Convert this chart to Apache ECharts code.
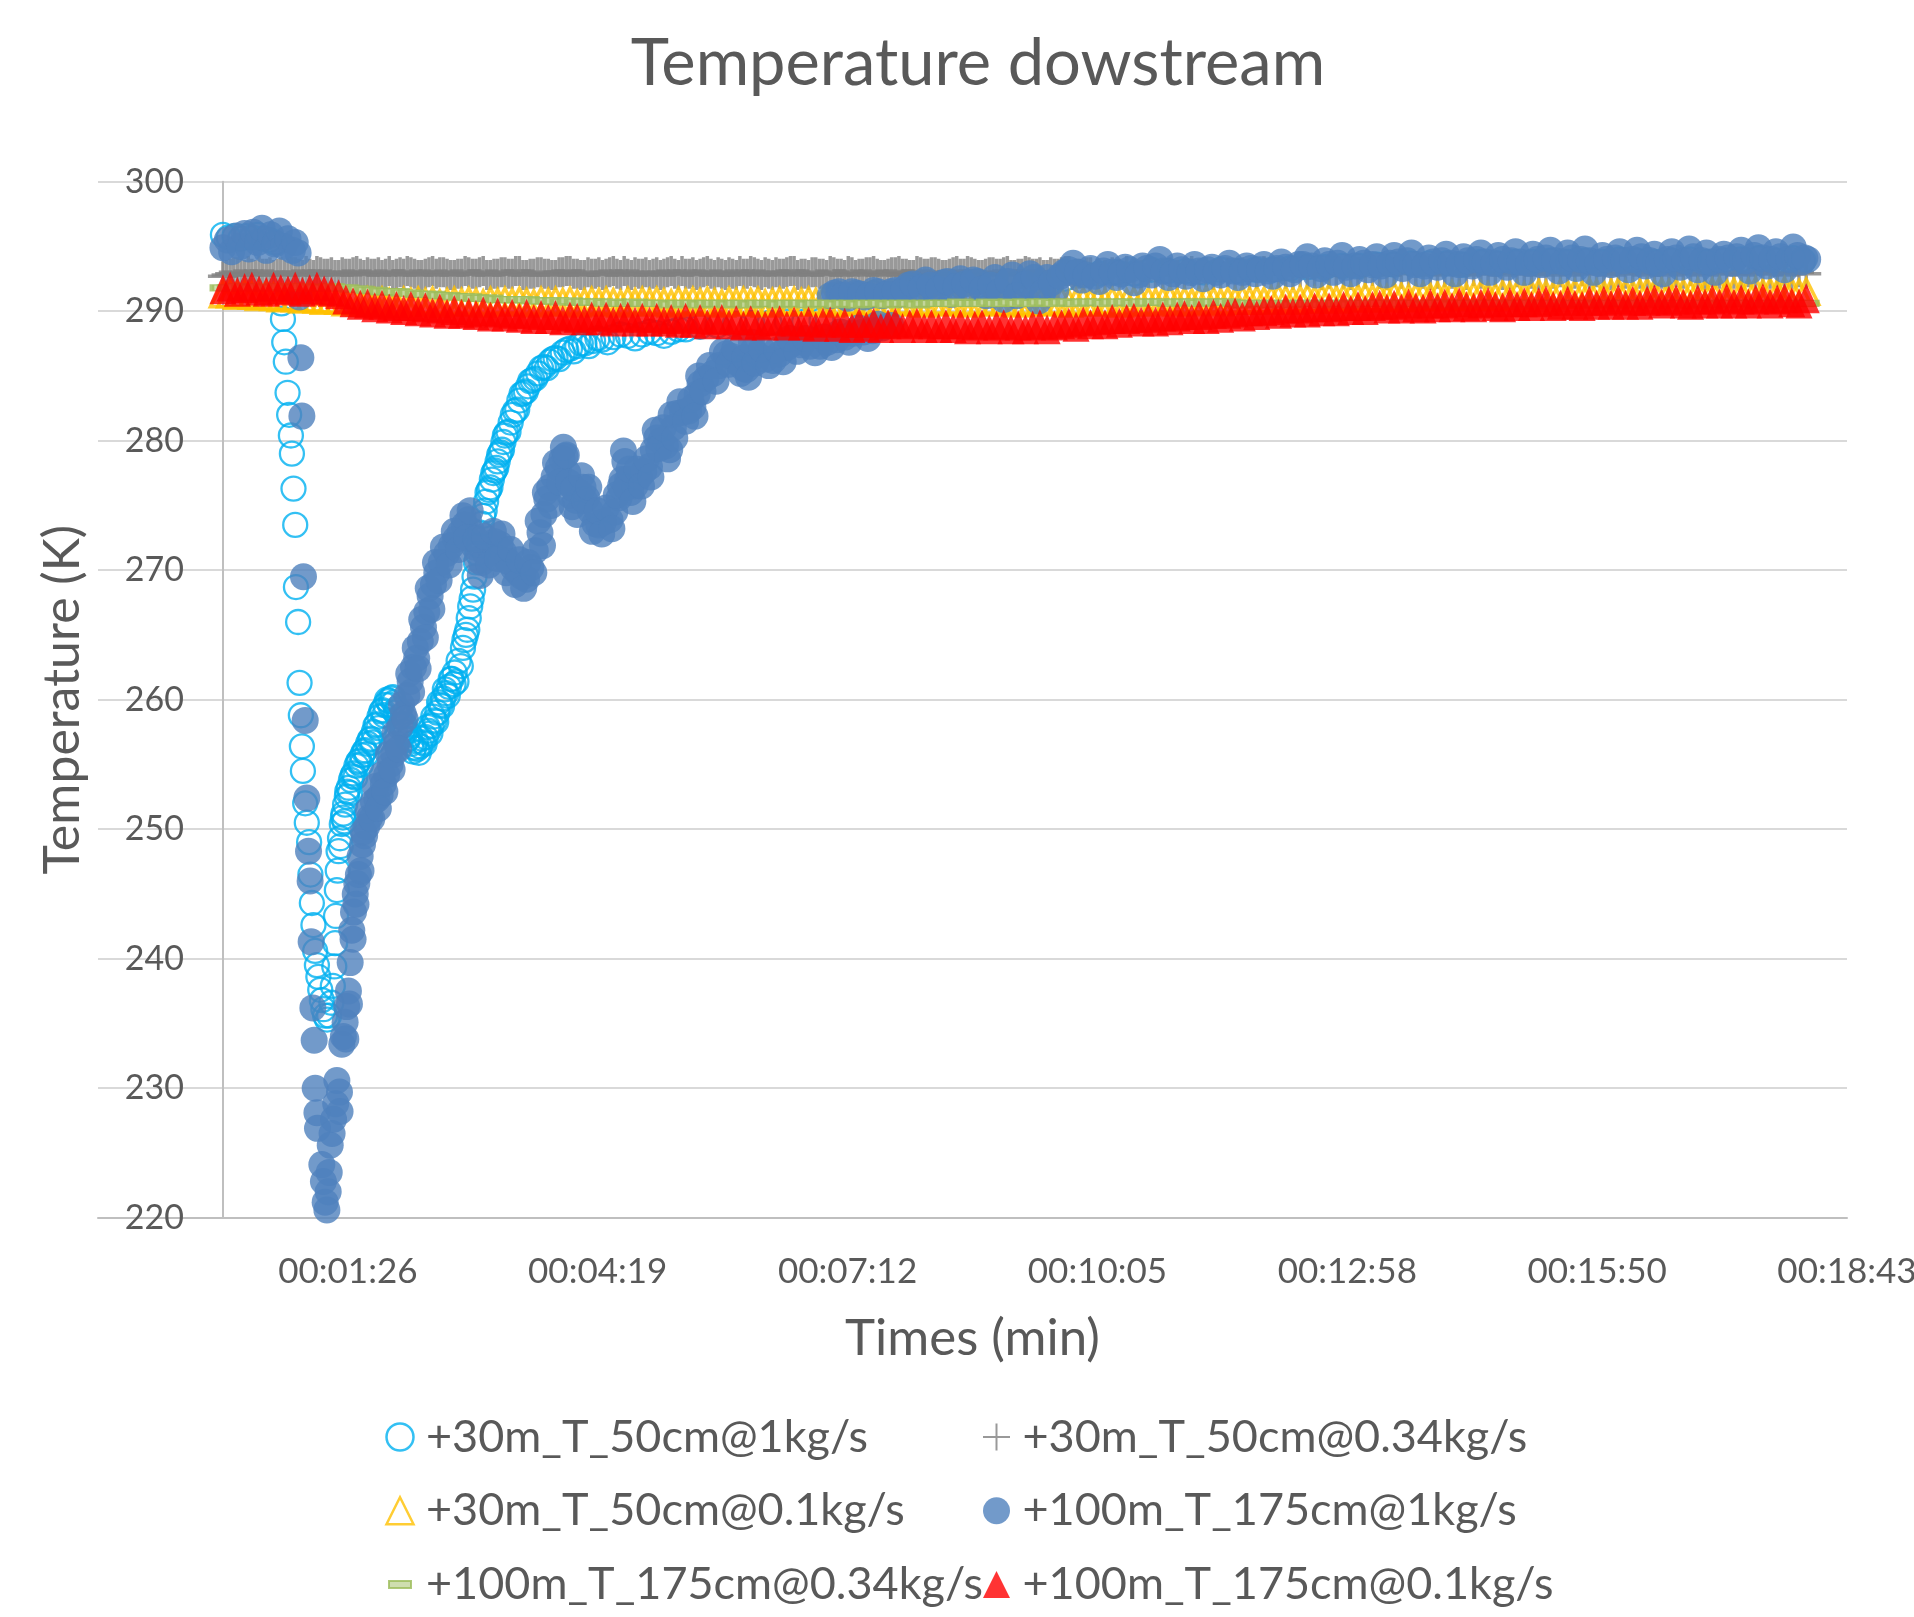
<!DOCTYPE html>
<html><head><meta charset="utf-8">
<script src="https://cdn.jsdelivr.net/npm/echarts@6/dist/echarts.min.js"></script>
<style>html,body{margin:0;padding:0;background:#fff}#c{width:1914px;height:1617px}</style>
</head><body><div id="c"></div>
<script>
const FONT = 'Lato, "Open Sans", sans-serif';
const titleText = 'Temperature dowstream';
const xName = 'Times (min)';
const yName = 'Temperature (K)';
const seriesNames = ['+30m_T_50cm@1kg/s','+30m_T_50cm@0.34kg/s','+30m_T_50cm@0.1kg/s','+100m_T_175cm@1kg/s','+100m_T_175cm@0.34kg/s','+100m_T_175cm@0.1kg/s'];
const xTickLabels = ['00:01:26','00:04:19','00:07:12','00:10:05','00:12:58','00:15:50','00:18:43'];

// time (s) of the dense, slowly varying series
const tFlat = [
0,5,10,15,20,25,30,35,40,45,50,55,60,65,70,75,80,85,90,95,
100,105,110,115,120,125,130,135,140,145,150,155,160,165,170,175,180,185,190,195,
200,205,210,215,220,225,230,235,240,245,250,255,260,265,270,275,280,285,290,295,
300,305,310,315,320,325,330,335,340,345,350,355,360,365,370,375,380,385,390,395,
400,405,410,415,420,425,430,435,440,445,450,455,460,465,470,475,480,485,490,495,
500,505,510,515,520,525,530,535,540,545,550,555,560,565,570,575,580,585,590,595,
600,605,610,615,620,625,630,635,640,645,650,655,660,665,670,675,680,685,690,695,
700,705,710,715,720,725,730,735,740,745,750,755,760,765,770,775,780,785,790,795,
800,805,810,815,820,825,830,835,840,845,850,855,860,865,870,875,880,885,890,895,
900,905,910,915,920,925,930,935,940,945,950,955,960,965,970,975,980,985,990,995,
1000,1005,1010,1015,1020,1025,1030,1035,1040,1045,1050,1055,1060,1065,1070,1075,1080,1085,1090,1095];

const gray034 = [
292.7,292.9,293.0,292.8,292.9,293.1,292.9,292.8,293.0,292.9,293.0,292.8,292.9,293.1,292.9,293.0,292.8,292.9,293.0,292.9,
293.0,292.9,292.8,293.1,292.9,292.9,293.0,292.8,292.9,293.1,293.0,292.9,292.8,292.9,293.0,292.9,293.1,292.8,292.9,293.0,
292.9,293.1,292.8,292.9,293.0,292.9,292.8,293.0,293.1,292.9,292.8,292.9,293.0,292.9,293.1,292.8,292.9,293.0,292.9,292.8,
293.0,292.9,293.1,292.8,292.9,293.0,292.9,293.1,292.8,292.9,293.0,292.8,292.9,293.1,292.9,293.0,292.8,292.9,293.0,293.1,
292.9,292.8,293.0,292.9,293.1,292.9,292.8,293.0,292.9,293.0,293.1,292.8,292.9,293.0,292.9,292.8,293.1,292.9,293.0,292.9,
292.8,293.0,292.9,293.1,292.9,292.8,293.0,292.9,293.0,292.8,292.9,293.1,292.9,293.0,292.8,292.9,293.0,293.1,292.9,292.8,
293.0,292.9,292.8,293.0,292.9,293.1,292.9,292.8,293.0,292.9,292.9,293.0,292.8,292.9,293.1,292.9,293.0,292.8,292.9,293.0,
292.9,293.0,292.8,292.9,293.1,292.9,293.0,292.9,292.8,293.0,292.9,293.1,292.8,292.9,293.0,292.9,292.8,293.0,292.9,293.1,
292.9,292.8,293.0,292.9,293.0,293.1,292.9,292.8,292.9,293.0,292.9,293.0,292.8,293.1,292.9,292.9,293.0,292.8,292.9,293.0,
293.1,292.9,292.8,293.0,292.9,293.0,292.8,292.9,293.1,292.9,293.0,292.9,292.8,293.0,292.9,293.1,292.9,292.8,293.0,292.9,
292.8,293.0,292.9,293.1,292.9,292.8,293.0,292.9,293.0,292.9,292.8,293.0,292.9,293.1,292.9,293.0,292.8,292.9,293.0,292.9];

// extra gray samples between the 5 s grid, [time s, K]
const gray034Mid = [
[2.5,292.8],[7.5,293.0],[12.5,292.9],[17.5,293.1],[22.5,292.8],[27.5,292.9],[32.5,293.0],[37.5,292.9],[42.5,292.8],[47.5,293.0],
[52.5,292.9],[57.5,293.1],[62.5,292.8],[67.5,293.0],[72.5,292.9],[77.5,292.8],[82.5,293.0],[87.5,292.9],[92.5,293.1],[97.5,292.8],
[102.5,292.9],[107.5,293.0],[112.5,292.9],[117.5,292.8],[122.5,293.0],[127.5,293.1],[132.5,292.9],[137.5,292.8],[142.5,293.0],[147.5,292.9],
[152.5,293.0],[157.5,292.8],[162.5,292.9],[167.5,293.1],[172.5,292.9],[177.5,293.0],[182.5,292.8],[187.5,292.9],[192.5,293.0],[197.5,292.9],
[202.5,293.1],[207.5,292.8],[212.5,292.9],[217.5,293.0],[222.5,292.9],[227.5,292.8],[232.5,293.0],[237.5,293.1],[242.5,292.9],[247.5,292.8],
[252.5,293.0],[257.5,292.9],[262.5,292.8],[267.5,293.0],[272.5,292.9],[277.5,293.1],[282.5,292.8],[287.5,292.9],[292.5,293.0],[297.5,292.9],
[302.5,292.8],[307.5,293.0],[312.5,292.9],[317.5,293.1],[322.5,292.9],[327.5,292.8],[332.5,293.0],[337.5,292.9],[342.5,293.0],[347.5,292.8],
[352.5,292.9],[357.5,293.1],[362.5,292.9],[367.5,293.0],[372.5,292.8],[377.5,292.9],[382.5,293.0],[387.5,292.9],[392.5,293.1],[397.5,292.8],
[402.5,292.9],[407.5,293.0],[412.5,292.9],[417.5,292.8],[422.5,293.0],[427.5,292.9],[432.5,293.1],[437.5,292.8],[442.5,292.9],[447.5,293.0],
[452.5,292.9],[457.5,292.8],[462.5,293.0],[467.5,293.1],[472.5,292.9],[477.5,292.8],[482.5,293.0],[487.5,292.9],[492.5,293.0],[497.5,292.8],
[502.5,292.9],[507.5,293.1],[512.5,292.9],[517.5,293.0],[522.5,292.8],[527.5,292.9],[532.5,293.0],[537.5,292.9],[542.5,293.1],[547.5,292.8],
[552.5,292.9],[557.5,293.0],[562.5,292.9],[567.5,292.8],[572.5,293.0],[577.5,292.9],[582.5,293.1],[587.5,292.8],[592.5,292.9],[597.5,293.0]];

const yellow01 = [
291.3,291.3,291.2,291.3,291.2,291.1,291.2,291.1,291.0,291.1,291.0,290.9,291.0,290.9,290.8,290.9,290.8,290.7,290.8,290.7,
290.8,290.7,290.8,290.7,290.6,290.8,290.7,290.8,290.7,290.8,290.6,290.7,290.8,290.7,290.8,290.7,290.6,290.8,290.7,290.8,
290.7,290.8,290.7,290.6,290.8,290.7,290.8,290.7,290.8,290.6,290.7,290.8,290.7,290.8,290.7,290.6,290.8,290.7,290.8,290.7,
290.8,290.7,290.6,290.8,290.7,290.8,290.7,290.8,290.7,290.6,290.8,290.7,290.8,290.7,290.8,290.6,290.7,290.8,290.7,290.8,
290.7,290.8,290.7,290.8,290.6,290.7,290.8,290.7,290.8,290.7,290.6,290.8,290.7,290.8,290.7,290.8,290.7,290.6,290.8,290.7,
290.8,290.7,290.8,290.6,290.7,290.8,290.7,290.8,290.7,290.8,290.6,290.7,290.8,290.7,290.8,290.7,290.8,290.6,290.7,290.8,
290.7,290.8,290.7,290.8,290.6,290.7,290.8,290.7,290.8,290.7,290.8,290.9,290.7,290.8,290.7,290.8,290.9,290.8,290.7,290.8,
290.8,290.9,290.8,290.9,290.8,290.9,291.0,290.9,290.8,290.9,291.0,290.9,291.0,291.1,290.9,291.0,291.1,291.0,291.1,291.0,
291.1,291.0,291.2,291.1,291.0,291.1,291.2,291.1,291.2,291.1,291.3,291.2,291.1,291.2,291.3,291.2,291.1,291.3,291.2,291.3,
291.2,291.3,291.4,291.3,291.2,291.4,291.3,291.4,291.3,291.5,291.4,291.3,291.4,291.5,291.4,291.3,291.4,291.5,291.4,291.5,
291.4,291.5,291.4,291.3,291.5,291.4,291.5,291.6,291.4,291.5,291.4,291.5,291.6,291.4,291.5,291.4,291.6,291.5,291.4,291.5];

const green034 = [
291.8,291.8,291.9,291.8,291.8,291.9,291.8,291.8,291.9,291.8,291.8,291.9,291.8,291.8,291.8,291.9,291.8,291.8,291.7,291.7,
291.6,291.6,291.5,291.5,291.5,291.4,291.4,291.3,291.3,291.3,291.2,291.2,291.1,291.1,291.1,291.0,291.0,291.0,290.9,290.9,
290.9,290.9,290.9,290.8,290.8,290.8,290.8,290.7,290.8,290.7,290.7,290.7,290.7,290.6,290.7,290.6,290.6,290.7,290.6,290.6,
290.6,290.6,290.5,290.6,290.6,290.6,290.5,290.6,290.6,290.6,290.5,290.6,290.6,290.5,290.6,290.6,290.6,290.5,290.6,290.6,
290.6,290.5,290.6,290.6,290.6,290.5,290.6,290.6,290.5,290.6,290.6,290.6,290.5,290.6,290.6,290.6,290.5,290.6,290.6,290.6,
290.6,290.6,290.7,290.6,290.6,290.6,290.7,290.6,290.6,290.7,290.6,290.7,290.6,290.7,290.7,290.6,290.7,290.7,290.6,290.7,
290.7,290.7,290.6,290.7,290.7,290.7,290.6,290.7,290.7,290.7,290.7,290.6,290.7,290.7,290.7,290.6,290.7,290.7,290.7,290.7,
290.6,290.5,290.6,290.6,290.6,290.5,290.6,290.6,290.5,290.6,290.6,290.6,290.5,290.6,290.6,290.6,290.5,290.6,290.6,290.6,
290.6,290.6,290.5,290.6,290.6,290.6,290.5,290.6,290.6,290.6,290.5,290.6,290.6,290.6,290.5,290.6,290.6,290.6,290.5,290.6,
290.6,290.6,290.5,290.6,290.6,290.6,290.5,290.6,290.6,290.6,290.5,290.6,290.6,290.6,290.6,290.5,290.6,290.6,290.6,290.5,
290.6,290.6,290.6,290.5,290.6,290.6,290.6,290.5,290.6,290.6,290.6,290.6,290.5,290.6,290.6,290.6,290.5,290.6,290.6,290.6];

const red01 = [
291.7,291.9,291.5,291.8,291.9,291.6,291.5,291.9,291.7,291.6,291.9,291.5,291.7,291.9,291.6,291.5,291.3,290.9,290.7,290.5,
290.6,290.3,290.5,290.2,290.4,290.1,290.4,290.0,290.3,289.9,290.2,289.8,290.1,289.8,289.9,289.7,290.0,289.6,289.9,289.6,
289.8,289.5,289.8,289.4,289.7,289.4,289.7,289.3,289.6,289.5,289.3,289.6,289.3,289.6,289.2,289.5,289.6,289.2,289.5,289.2,
289.5,289.2,289.4,289.1,289.5,289.1,289.4,289.0,289.3,289.4,289.0,289.3,288.9,289.3,289.0,288.9,289.2,289.3,288.9,289.2,
288.9,289.2,288.8,289.1,289.2,288.8,289.1,288.7,289.1,288.8,289.1,288.7,289.0,289.1,288.7,289.0,289.1,288.7,289.0,288.7,
289.0,288.7,289.0,288.6,288.9,289.0,288.6,288.9,289.0,288.6,288.9,288.6,288.9,289.0,288.6,288.9,289.0,289.1,288.8,289.2,
289.0,289.3,289.0,289.4,289.1,289.4,289.5,289.2,289.5,289.2,289.6,289.3,289.6,289.7,289.4,289.7,289.4,289.8,289.5,289.8,
289.9,289.6,290.0,289.7,290.0,290.1,289.8,290.2,289.9,290.2,289.9,290.3,290.0,290.3,290.0,290.4,290.1,290.4,290.1,290.4,
290.5,290.2,290.5,290.2,290.6,290.3,290.2,290.6,290.3,290.6,290.3,290.7,290.4,290.3,290.6,290.7,290.4,290.3,290.7,290.4,
290.7,290.4,290.7,290.8,290.4,290.5,290.8,290.5,290.4,290.8,290.5,290.8,290.5,290.9,290.5,290.8,290.5,290.8,290.9,290.6,
290.8,290.9,290.6,290.5,290.9,290.6,290.9,290.6,291.0,290.6,290.9,290.6,290.9,291.0,290.6,290.9,291.0,290.7,290.6,291.0];

// [time s, temperature K]
const lightBlue1 = [
[0,295.9],[4,295.7],[8,295.8],[12,295.6],[16,295.8],[20,295.7],[24,295.9],[28,295.6],[32,295.5],[36,295.3],
[40.5,290.6],[41.5,289.4],[42.4,287.6],[43.5,286.1],[44.7,283.7],[45.8,282.0],[47,280.4],[47.7,279.0],[48.8,276.3],[50,273.5],
[50.5,268.7],[52,266.0],[53,261.3],[53.9,258.8],[54.6,256.4],[55.3,254.5],[56.9,252.0],[58,250.5],[59.6,249.0],[60.5,246.5],
[61.5,244.3],[62.6,242.6],[63.8,240.6],[65,239.5],[66,238.6],[67.3,237.6],[68.4,236.8],[69.5,236.1],[70.7,235.6],[72,235.3],
[73.5,235.6],[75,236.6],[76,237.9],[77,239.4],[77.6,241.2],[78.2,243.3],[78.8,245.3],[79.4,246.8],[80,248.3],[81,249.3],
[82.2,250.4],[83.4,251.2],[84.5,251.9],[85.7,252.5],[87,253.2],[88.5,253.8],[90.3,254.3],[92.3,254.9],[94.3,255.3],[96.3,255.7],
[98.3,256.1],[100.3,256.6],[102.3,257.0],[104.3,257.5],[106.3,258.1],[108.3,258.7],[110.3,259.2],[112.3,259.6],[114.3,259.9],[116.3,260.1],
[118.3,259.8],[120.3,259.3],[122.3,258.7],[124.3,258.1],[126.3,257.5],[128.3,257.0],[130.3,256.6],[132.3,256.3],[134.3,256.2],[136.3,256.4],
[138.3,256.7],[140.3,257.1],[142.3,257.6],[144.3,258.0],[146.3,258.4],[148.3,259.0],[150.3,259.6],[152.3,260.1],[154.3,260.5],[156.3,261.0],
[158.3,261.6],[160.3,262.1],[163,263.0],[166,264.0],[168,265.0],[170,266.3],[172,267.8],[174,269.5],[176,271.3],[178,272.9],
[180,274.2],[182,275.3],[184,276.2],[186,277.0],[188,277.7],[190,278.4],[192,279.1],[194,279.9],[196,280.6],[199,281.4],
[202,282.3],[205,283.1],[208,283.7],[211,284.2],[214,284.7],[218,285.2],[222,285.7],[226,286.1],[230,286.4],[235,286.8],
[240,287.1],[245,287.3],[250,287.5],[256,287.7],[262,287.8],[270,288.0],[280,288.1],[290,288.2],[300,288.3],[310,288.4],
[320,288.6],[330,288.8],[342,288.9],[354,289.0],[366,289.1],[378,289.1],[390,289.2],[402,289.2],[414,289.3],
[81.5,248.7],[83,250.9],[84,250.6],[86,252.9],[88,252.8],[89.5,254.1],[91.5,254.0],[93.5,255.2],[95.5,255.0],[97.5,256.0],
[99.5,255.8],[101.5,256.9],[103.5,256.7],[105.5,258.0],[107.5,257.8],[109.5,259.1],[111.5,258.8],[113.5,260.0],[115.5,259.6],[117.5,260.2],
[119.5,259.0],[121.5,259.2],[123.5,258.0],[125.5,258.1],[127.5,256.9],[129.5,257.3],[131.5,256.0],[133.5,256.8],[135.5,255.9],[137.5,257.0],
[139.5,256.6],[141.5,257.9],[143.5,257.4],[145.5,258.7],[147.5,258.3],[149.5,259.8],[151.5,259.5],[153.5,260.8],[155.5,260.3],[157.5,261.6],
[159.5,261.2],[161.5,261.4],[164.5,262.6],[167,264.6],[169,265.4],[171,267.2],[173,268.5],[175,270.6],[177,271.9],[179,273.6],
[181,274.6],[183,276.0],[185,276.4],[187,277.5],[189,277.9],[191,278.9],[193,279.3],[195,280.4],[197.5,280.7],[200.5,282.0],
[203.5,282.4],[206.5,283.6],[209.5,283.8],[212.5,284.6],[216,284.8],[220,285.6],[224,285.6],[228,286.3],[232.5,286.3],[237.5,287.0],
[242.5,286.9],[247.5,287.5],[253,287.3],[259,287.9],[266,287.6],[275,288.2],[285,287.9],[295,288.4],[305,288.1],[315,288.6],
[426,291.3],[438,291.3],[450,291.4],[462,291.3],[474,291.8],[486,291.9],[498,291.9],[510,292.0],[522,292.0],[534,291.9],
[546,291.9],[558,292.0],[570,291.9],[582,292.5],[594,292.8],[606,292.9],[618,293.0],[630,292.9],[642,293.2],[654,293.1],
[666,293.1],[678,293.0],[690,293.2],[702,293.1],[714,293.2],[726,293.2],[738,293.3],[750,293.4],[762,293.4],[774,293.5],
[786,293.5],[798,293.6],[810,293.6],[822,293.7],[834,293.7],[846,293.7],[858,293.6],[870,293.8],[882,293.7],[894,293.8],
[906,293.8],[918,293.9],[930,293.8],[942,293.9],[954,293.8],[966,294.0],[978,293.9],[990,293.8],[1002,293.9],[1014,294.0],
[1026,293.8],[1038,293.9],[1050,294.0],[1062,294.1],[1074,293.9],[1086,294.1],[1093,293.9]];

const darkBlue1 = [
[0,294.9],[3,295.5],[6,294.6],[9,295.8],[12,295.0],[15,296.0],[18,294.8],[21,296.1],[24,295.3],[27,296.4],
[30,294.7],[33,295.9],[36,295.2],[39,296.2],[42,295.0],[45,295.6],[48,294.7],[50,295.3],[52,294.5],[52.8,291.1],
[53.9,286.4],[54.6,281.9],[55.7,269.5],[56.9,258.4],[58,252.4],[59.2,248.3],[60.3,246.0],[61,241.3],[62.2,236.2],[63.1,233.7],
[63.8,230.0],[65,228.1],[65.4,226.9],[68.4,224.1],[69.5,222.8],[70.7,221.2],[71.9,220.6],
[72.8,222.0],[73.5,223.5],[74.2,225.6],[75.5,226.5],[76.5,227.6],[78,228.8],[78.8,230.6],[80.6,229.7],[81,228.2],[82.2,233.4],
[83.3,234.0],[84.5,235.1],[85.6,236.3],[86.8,237.5],[88,239.7],[89.1,242.2],[90.3,243.6],[91.5,245.0],[92.6,245.8],[93.7,246.5],
[94.9,247.9],[96.5,248.8],[98,249.5],[99.5,250.2],[101.5,250.9],[104.1,252.1],[106.5,252.3],[108.7,252.6],[111,253.5],[113.3,254.2],
[115.6,255.0],[118,255.8],[120,256.6],[122.5,257.9],[124.8,258.9],[127.2,260.3],[129.5,261.4],[131.8,262.5],[134,263.2],[136.5,264.5],
[138.7,265.6],[141,266.8],[143.3,268.0],[145.6,268.9],[147.9,269.8],[151,270.6],[154.8,271.3],[158,271.9],[161,272.4],[164,272.9],
[167,273.5],[169.8,273.9],[172,273.0],[174,271.8],[176,270.8],[179,270.6],[182,271.2],[185,271.8],[188,272.2],[191.7,272.0],
[194,271.4],[197,270.7],[200.7,270.2],[204,269.8],[207,269.5],[210,269.3],[213,270.2],[216,271.5],[219.3,272.9],[222,274.3],
[224,275.5],[226,276.4],[229,277.2],[232,277.9],[234.5,278.6],[236.6,278.8],[238.5,277.5],[240,275.8],[241.5,274.9],[244,275.4],
[246.5,276.0],[249,276.4],[251.5,275.6],[254,274.6],[257.3,273.6],[260,273.5],[263,273.7],[267.7,273.9],[271,274.5],[274,275.6],
[276,277.0],[278,278.4],[280,277.0],[282,276.0],[285,276.5],[288,277.2],[291,277.6],[295,278.0],[297.6,279.3],[300,280.2],
[303,280.0],[306,279.6],[309,279.3],[311.5,281.0],[314,282.1],[318,282.2],[322,282.3],[325,282.6],[328,283.6],[330,284.4],
[334,284.8],[339,285.2],[343,285.8],[348,286.7],[352,286.5],[356,286.0],[360,285.6],[362,285.5],[364.5,286.2],[366.7,287.0],
[370,286.6],[375,286.3],[380.6,286.2],[385,286.7],[390,287.2],[394,287.5],[400,287.4],[406,287.3],[413,287.3],[418,287.6],
[424.4,287.8],[430,288.0],[436,288.3],[443,288.4],[449.5,288.5],[456,288.7],[462,288.9],
[85,233.8],[87.5,236.5],[90,241.5],[92,244.2],[95.5,246.8],[97,249.8],[100.5,251.5],[103,250.8],[105.5,253.3],[107.5,251.6],
[110,254.2],[112,252.9],[114.5,255.8],[117,254.6],[119,257.4],[121.5,256.2],[123.5,259.6],[126,258.5],[128.5,262.0],[130.5,260.6],
[133,264.0],[135,262.4],[137.5,266.2],[140,264.8],[142,268.6],[144.5,267.0],[147,270.6],[149.5,269.2],[152.5,271.8],[156.5,270.4],
[160,273.0],[163,271.6],[166,274.2],[168.5,272.5],[171,274.6],[175,272.4],[178,269.6],[181,272.6],[184,270.4],[187,273.0],
[190,270.9],[193,272.8],[196,269.8],[199,271.6],[202,268.9],[205,270.8],[208,268.6],[211,270.6],[215,269.8],[218,273.8],
[221,271.9],[223,276.0],[227,275.0],[230,278.3],[233,276.8],[235.5,279.5],[237.5,278.9],[239,276.8],[242.5,276.3],[245,274.3],
[248,277.3],[250,275.4],[253,276.4],[255.5,273.0],[259,274.6],[262,272.8],[265,274.8],[269,273.2],[272,275.8],[275,276.5],
[277,279.2],[279,276.4],[281,277.8],[283.5,275.3],[286.5,277.8],[289.5,276.5],[293,278.6],[296,277.2],[299,280.8],[301.5,279.4],
[304.5,281.0],[307.5,278.6],[310,282.0],[312.5,280.2],[316,283.0],[320,281.5],[323.5,283.2],[326.5,281.9],[329,285.0],[332,283.8],
[336.5,285.8],[341,284.6],[345.5,286.9],[350,285.9],[354,287.1],[358,285.2],[361,286.4],[363.5,284.9],[365.5,287.6],[368,286.0],
[372.5,287.1],[377.5,285.8],[383,287.0],[387.5,286.1],[392,287.9],[397,286.9],[403,287.9],[409.5,286.8],[415.5,288.0],[421,287.2],
[427,288.4],[433,287.6],[439.5,288.7],[446,287.9],[453,289.0],
[420,291.2],[426,291.5],[432,291.0],[438,291.4],[444,291.1],[450,291.6],[456,291.2],[462,291.5],[468,291.3],[474,292.0],
[480,291.4],[486,292.4],[492,291.6],[498,292.2],[504,291.3],[510,292.5],[516,291.8],[522,292.3],[528,291.2],[534,292.6],
[540,290.9],[546,292.8],[552,291.5],[558,292.9],[564,290.8],[570,292.6],[576,291.6],[582,293.0],[588,293.7],[594,292.4],
[600,293.3],[606,292.3],[612,293.6],[618,292.6],[624,293.4],[630,292.2],[636,293.5],[642,292.8],[648,294.0],[654,292.6],
[660,293.5],[666,292.7],[672,293.6],[678,292.5],[684,293.4],[690,292.8],[696,293.7],[702,292.6],[708,293.5],[714,292.9],
[720,293.6],[726,292.7],[732,293.8],[738,292.9],[744,293.6],[750,294.2],[756,292.8],[762,293.9],[768,293.0],[774,294.3],
[780,292.9],[786,294.0],[792,293.2],[798,294.2],[804,292.8],[810,294.3],[816,293.3],[822,294.5],[828,292.9],[834,294.1],
[840,293.4],[846,294.4],[852,292.9],[858,294.2],[864,293.5],[870,294.5],[876,293.0],[882,294.3],[888,293.4],[894,294.6],
[900,293.0],[906,294.4],[912,293.6],[918,294.7],[924,293.1],[930,294.5],[936,293.3],[942,294.8],[948,293.0],[954,294.3],
[960,293.6],[966,294.6],[972,293.2],[978,294.7],[984,293.5],[990,294.4],[996,292.9],[1002,294.6],[1008,293.4],[1014,294.8],
[1020,293.2],[1026,294.5],[1032,293.0],[1038,294.4],[1044,293.7],[1050,294.7],[1056,293.1],[1062,294.9],[1068,293.5],[1074,294.6],
[1080,293.2],[1086,294.95],[1092,293.8],[1096,294.0],
[423,291.4],[429,291.2],[435,291.5],[441,291.3],[447,291.2],[453,291.5],[459,291.3],[465,291.6],[471,291.7],[477,292.1],
[483,291.8],[489,292.0],[495,291.7],[501,292.3],[507,291.9],[513,292.1],[519,292.4],[525,291.7],[531,292.0],[537,291.5],
[543,292.3],[549,291.2],[555,292.1],[561,292.6],[567,291.4],[573,292.2],[579,292.7],[585,293.2],[591,293.0],[597,292.8],
[603,292.7],[609,293.1],[615,293.0],[621,292.9],[627,293.2],[633,292.8],[639,293.3],[645,293.5],[651,293.1],[657,292.9],
[663,293.2],[669,293.0],[675,293.1],[681,293.2],[687,293.0],[693,293.3],[699,293.1],[705,293.0],[711,293.3],[717,293.2],
[723,293.1],[729,293.3],[735,293.4],[741,293.2],[747,293.6],[753,293.5],[759,293.3],[765,293.6],[771,293.7],[777,293.4],
[783,293.5],[789,293.7],[795,293.6],[801,293.5],[807,293.7],[813,293.8],[819,293.9],[825,293.6],[831,293.5],[837,293.8],
[843,293.9],[849,293.7],[855,293.6],[861,293.9],[867,294.0],[873,293.8],[879,293.7],[885,294.0],[891,293.9],[897,293.8],
[903,293.7],[909,294.0],[915,294.1],[921,293.9],[927,293.8],[933,294.1],[939,294.0],[945,293.9],[951,293.7],[957,294.0],
[963,294.1],[969,293.9],[975,294.0],[981,294.2],[987,293.9],[993,293.7],[999,294.0],[1005,294.1],[1011,293.9],[1017,294.2],
[1023,293.9],[1029,293.8],[1035,294.0],[1041,294.1],[1047,294.2],[1053,293.9],[1059,294.3],[1065,294.1],[1071,294.0],[1077,294.2],
[1083,294.0],[1089,294.3],[1094,294.1]];

const pair = arr => tFlat.map((t, i) => [t, arr[i]]);
const PLUS = 'path://M13,0 L13,26 M0,13 L26,13';
const TRI = 'path://M13,0 L26,26 L0,26 Z';
const DASH = 'path://M-10,-10 M0,0 L22,0 L22,7 L0,7 Z M32,17';
const txt = '#595959';

const chart = echarts.init(document.getElementById('c'), null, {renderer: 'canvas'});
const legendBase = {
  orient: 'vertical', top: 1412, itemWidth: 42, itemHeight: 27, itemGap: 23.7,
  selectedMode: false, padding: 0,
  textStyle: {fontFamily: FONT, fontSize: 45, color: txt, lineHeight: 50}
};
chart.setOption({
  animation: false,
  backgroundColor: '#fff',
  textStyle: {fontFamily: FONT},
  title: {
    text: titleText, left: 973, top: 27, textAlign: 'center',
    textStyle: {fontFamily: FONT, fontSize: 65, fontWeight: 'normal', color: txt}
  },
  grid: {left: 98, right: 67, top: 181.7, bottom: 399.3, containLabel: false, outerBoundsMode: 'none'},
  legend: [
    Object.assign({}, legendBase, {left: 378, data: [
      {name: seriesNames[0], icon: 'circle', itemStyle: {color: 'rgba(0,0,0,0)', borderColor: '#00B0F0', borderWidth: 2.5}},
      {name: seriesNames[2], icon: TRI, itemStyle: {color: 'rgba(0,0,0,0)', borderColor: '#FFC000', borderWidth: 2.5}},
      {name: seriesNames[4], icon: DASH, itemStyle: {color: '#C3D69B', borderColor: '#9BBB59', borderWidth: 2}}
    ]}),
    Object.assign({}, legendBase, {left: 982, data: [
      {name: seriesNames[1], icon: PLUS, itemStyle: {color: 'rgba(0,0,0,0)', borderColor: '#808080', borderWidth: 2}},
      {name: seriesNames[3], icon: 'circle', itemStyle: {color: '#4F81BD', borderWidth: 0}},
      {name: seriesNames[5], icon: TRI, itemStyle: {color: '#FF0000', borderWidth: 0}}
    ]})
  ],
  xAxis: {
    type: 'value', min: -86.4, max: 1123.2, interval: 86.4,
    name: xName, nameLocation: 'middle', nameGap: 95,
    nameTextStyle: {fontFamily: FONT, fontSize: 51, color: txt},
    axisLine: {show: true, onZero: false, lineStyle: {color: '#BFBFBF', width: 2}},
    axisTick: {show: false},
    splitLine: {show: false},
    axisLabel: {
      fontFamily: FONT, fontSize: 35, color: txt, margin: 37,
      formatter: v => { const n = Math.round(v / 86.4); return (n > 0 && n % 2 === 1) ? xTickLabels[(n - 1) / 2] : ''; }
    }
  },
  yAxis: {
    type: 'value', min: 220, max: 300, interval: 10,
    name: yName, nameLocation: 'middle', nameGap: 10, nameRotate: 90,
    nameTextStyle: {fontFamily: FONT, fontSize: 50, color: txt},
    axisLine: {show: true, onZero: true, lineStyle: {color: '#BFBFBF', width: 2}},
    axisTick: {show: false},
    splitLine: {show: true, lineStyle: {color: '#D9D9D9', width: 2}},
    axisLabel: {fontFamily: FONT, fontSize: 34, color: txt, margin: -86}
  },
  series: [
    {name: seriesNames[0], type: 'scatter', data: lightBlue1, symbol: 'circle', symbolSize: 24,
     itemStyle: {color: 'rgba(0,0,0,0)', borderColor: '#00B0F0', borderWidth: 2.3}},
    {name: seriesNames[1], type: 'scatter', data: pair(gray034).concat(gray034Mid), symbol: PLUS, symbolSize: 30, symbolKeepAspect: true,
     itemStyle: {color: 'rgba(0,0,0,0)', borderColor: '#808080', borderWidth: 3.5}},
    {name: seriesNames[2], type: 'scatter', data: pair(yellow01), symbol: 'triangle', symbolSize: [25, 25],
     itemStyle: {color: 'rgba(0,0,0,0)', borderColor: '#FFC000', borderWidth: 3.5}},
    {name: seriesNames[3], type: 'scatter', data: darkBlue1, symbol: 'circle', symbolSize: 27,
     itemStyle: {color: '#4F81BD'}},
    {name: seriesNames[4], type: 'scatter', data: pair(green034), symbol: 'rect', symbolSize: [22, 6],
     itemStyle: {color: '#C3D69B', borderColor: '#9BBB59', borderWidth: 2.5}},
    {name: seriesNames[5], type: 'scatter', data: pair(red01), symbol: 'triangle', symbolSize: [27, 30],
     itemStyle: {color: '#FF0000'}}
  ]
});
</script></body></html>
